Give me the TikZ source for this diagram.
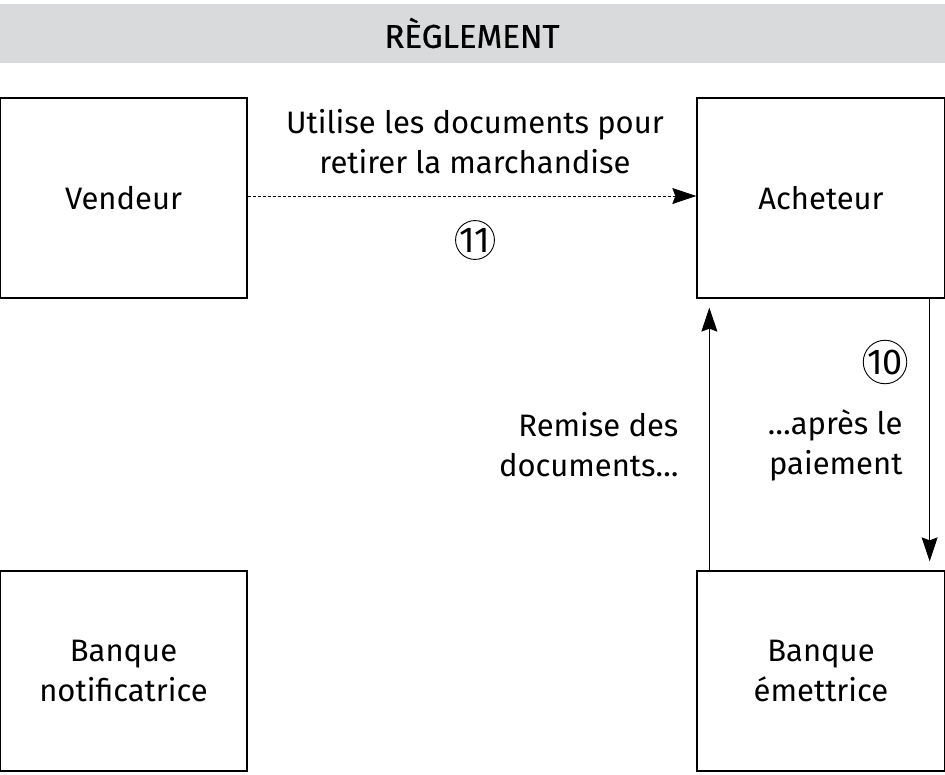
\documentclass[tikz,border=0pt]{standalone}
\usepackage{fontspec}
\setsansfont{Fira Sans}
\newfontfamily\titlefont[FakeBold=0.6]{Fira Sans}
\tikzset{every picture/.style={/utils/exec={\sffamily}}}
\usetikzlibrary{calc}
\usetikzlibrary{positioning}
\usetikzlibrary{arrows.meta}
\definecolor{bandgray}{HTML}{D9DADC}
\tikzset{x=1pt, y=-1pt,
  every node/.style={align=center,
    font=\fontsize{31}{40}\selectfont},
  party/.style={ % Sets the properties for each box
    draw, line width=1.3pt,
    minimum width=247pt, minimum height=200pt,
    inner sep=0pt},
  stepnum/.style={ % circled step number
    draw, circle, line width=0.9pt,
    inner sep=0pt, minimum size=37pt,
    font=\fontsize{36}{36}\selectfont},
  flow/.style={ % Sets the properties for each transition
    draw, line width=0.9pt,
    -{Stealth[length=24pt, width=16pt, inset=3pt]}},
  doctrip/.style={flow, dash pattern=on 3pt off 2pt}}

\begin{document}
\begin{tikzpicture}
  \useasboundingbox (0,0) rectangle (945,774);

  % title band
  \fill[bandgray] (0,4) rectangle (945,63);
  \node (title) at (472,33) {\titlefont\fontsize{33}{33}\selectfont RÈGLEMENT};

  \node [party] (vendeur)  at (123.5,198) {Vendeur};
  \node [party, minimum width=248pt] (acheteur) at (821,198) {Acheteur};
  \node [party] (bnotif)   at (123.5,671) {Banque\\notificatrice};
  \node [party, minimum width=248pt] (bemet) at (821,671) {Banque\\émettrice};

  % step 11
  \draw [doctrip] ([yshift=2pt]vendeur.east) -- ([yshift=2pt]acheteur.west);
  \node (retrait) at (475,142) {Utilise les documents pour\\retirer la marchandise};
  \node [stepnum] (s11) at (475,240) {11};

  % step 10
  \draw [flow] ([xshift=-16pt]acheteur.south east)
    -- ([xshift=-16pt, yshift=9pt]bemet.north east);
  \draw [flow] ([xshift=13pt]bemet.north west)
    -- ([xshift=13pt, yshift=-9pt]acheteur.south west);
  \node [stepnum] (s10) at (885,362) {10};
  \node [anchor=east, align=right] (remise) at (682,445) {Remise des\\documents…};
  \node [anchor=east, align=right] (paiement) at (906,445) {…après le\\paiement};
\end{tikzpicture}
\end{document}
